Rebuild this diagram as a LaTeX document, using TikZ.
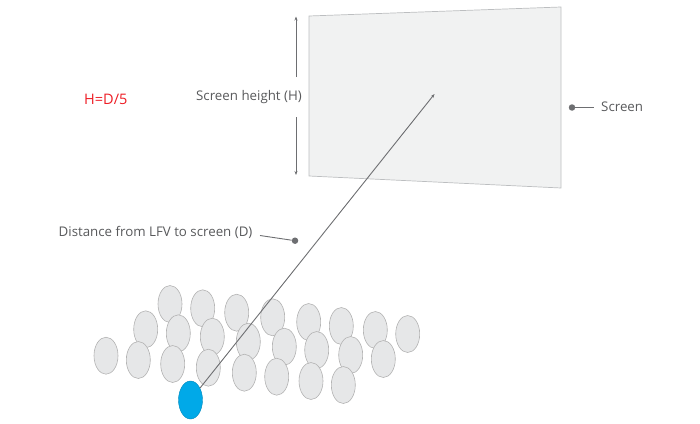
\documentclass[tikz,border=0pt]{standalone}
\usepackage{fontspec}
\setmainfont{Open Sans}
\usetikzlibrary{shapes.geometric,arrows.meta}
\definecolor{txtgray}{HTML}{58595B}
\definecolor{linegray}{HTML}{6D6E71}
\definecolor{persfill}{HTML}{E6E7E8}
\definecolor{persdraw}{HTML}{B3B3B3}
\definecolor{scrfill}{HTML}{F1F2F2}
\definecolor{scrdraw}{HTML}{BCBEC0}
\definecolor{lfvblue}{HTML}{00A9E8}
\definecolor{hred}{HTML}{ED1C24}
\tikzset{
  person/.style={ellipse,draw=persdraw,fill=persfill,line width=0.6pt,minimum width=24pt,minimum height=37pt,inner sep=0pt},
  lfv/.style={ellipse,draw=lfvblue!80!black,fill=lfvblue,line width=0.4pt,minimum width=24pt,minimum height=38pt,inner sep=0pt},
  lbl/.style={font=\fontsize{13.3}{16}\selectfont,text=txtgray,inner sep=0pt},
  conn/.style={draw=linegray,line width=0.9pt},
  tip/.style={-{Stealth[length=4pt,width=3pt]}},
  ldot/.style={circle,fill=linegray,inner sep=0pt,minimum size=6.5pt}
}
\begin{document}
\begin{tikzpicture}[x=1pt,y=-1pt]
\useasboundingbox (0,0) rectangle (700,423);
% screen
\coordinate (s1) at (309,16);
\coordinate (s2) at (561,7);
\coordinate (s3) at (561,188);
\coordinate (s4) at (309,176);
\fill[scrfill,draw=scrdraw,line width=0.7pt] (s1) -- (s2) -- (s3) -- (s4) -- cycle;
\coordinate (target) at (434.5,94);
% height arrows
\node[lbl,anchor=east] (hlabel) at (302,97.5) {Screen height (H)};
\coordinate (htop) at (296,16.5);
\coordinate (hbot) at (296,175);
\coordinate (hgap1) at (296,77);
\coordinate (hgap2) at (296,117);
\draw[conn,tip] (hgap1) -- (htop);
\draw[conn,tip] (hgap2) -- (hbot);
% formula
\node[font=\fontsize{14.5}{17}\selectfont,text=hred,inner sep=0pt,anchor=west] (formula) at (84,99) {H=D/5};
% screen label
\node[ldot] (sdot) at (572,107.5) {};
\coordinate (send) at (594,107.5);
\draw[conn] (sdot) -- (send);
\node[lbl,anchor=west] (slabel) at (601,106.5) {Screen};
% audience
\foreach \i/\x/\y in {1/170/304,2/202.7/308.3,3/236.7/312.7,4/272.7/317.3,5/308.7/322,6/341.3/326,7/375.3/330,8/407.7/334}
  \node[person] (a\i) at (\x,\y) {};
\foreach \i/\x/\y in {1/145.7/329.3,2/178.3/333.3,3/212.3/336.7,4/248.3/341.7,5/284.3/346.7,6/316.7/350,7/350.7/355,8/383.3/359}
  \node[person] (b\i) at (\x,\y) {};
\foreach \i/\x/\y in {1/106/355.7,2/138.3/360,3/172.7/364,4/208.3/367.7,5/244.3/372.7,6/276.7/376.7,7/311/381,8/343.3/385}
  \node[person] (c\i) at (\x,\y) {};
\node[lfv] (viewer) at (190.5,400) {};
% distance line
\draw[conn,tip] (viewer) -- (target);
% distance label
\node[lbl,anchor=west] (dlabel) at (58.5,232.5) {Distance from LFV to screen (D)};
\node[ldot] (ddot) at (295,240.7) {};
\coordinate (dstart) at (260,235.5);
\draw[conn] (dstart) -- (ddot);
\end{tikzpicture}
\end{document}
